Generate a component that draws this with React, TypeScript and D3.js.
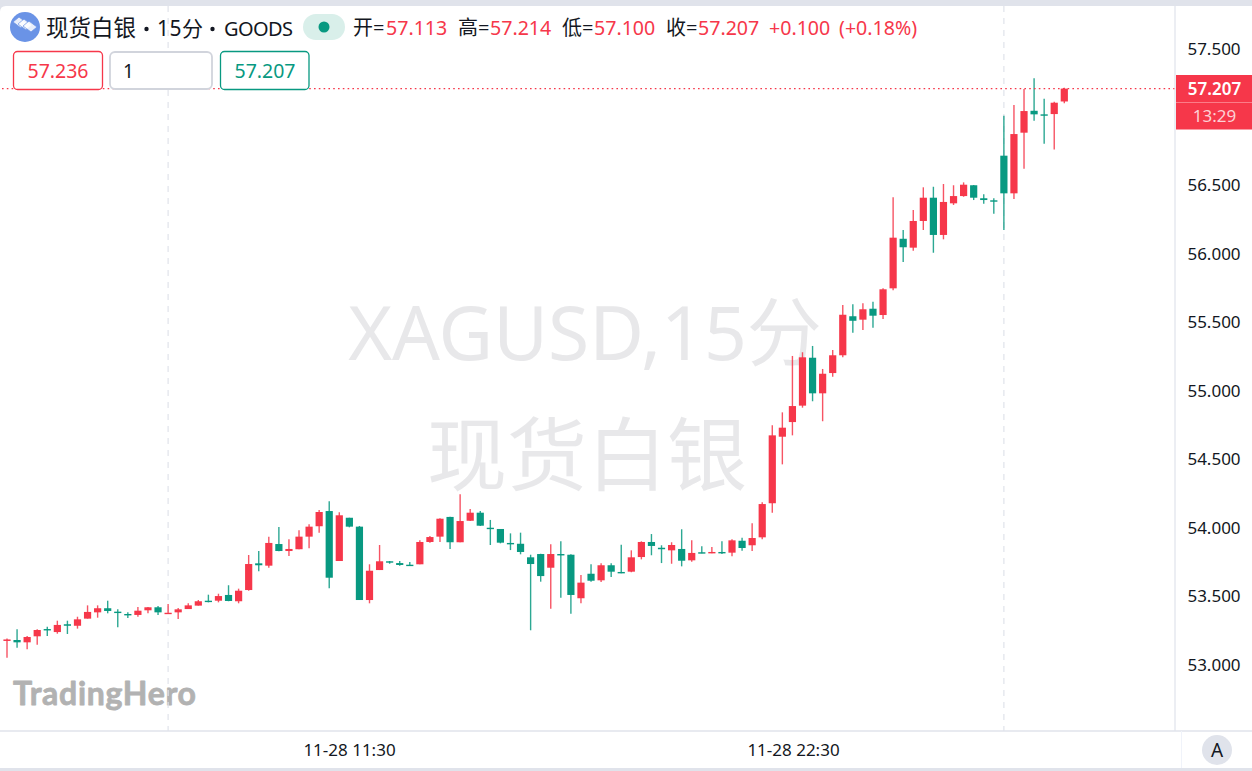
import React from "react";
import * as d3 from "d3";

const opens = [
  53.172,53.179,53.162,53.206,53.259,53.237,53.294,53.283,53.335,53.381,
  53.411,53.386,53.369,53.362,53.396,53.418,53.371,53.381,53.405,53.430,
  53.466,53.466,53.508,53.462,53.544,53.739,53.722,53.880,53.829,53.842,
  53.934,54.010,54.121,53.756,54.072,54.007,53.471,53.690,53.754,53.741,
  53.729,53.732,53.895,53.934,54.078,53.893,54.050,54.109,53.999,53.990,
  53.888,53.882,53.783,53.807,53.707,53.807,53.802,53.484,53.663,53.615,
  53.725,53.676,53.678,53.785,53.895,53.853,53.834,53.844,53.761,53.820,
  53.812,53.822,53.817,53.904,53.871,53.929,54.178,54.664,54.771,54.891,
  55.241,54.981,55.129,55.259,55.544,55.519,55.599,55.553,55.748,56.110,
  56.045,56.240,56.410,56.138,56.369,56.422,56.501,56.406,56.391,56.717,
  56.442,56.885,57.045,57.019,57.021,57.113,
];
const highs = [
  53.190,53.257,53.208,53.257,53.276,53.320,53.320,53.349,53.432,53.432,
  53.466,53.403,53.381,53.420,53.420,53.427,53.442,53.413,53.447,53.471,
  53.510,53.517,53.579,53.554,53.800,53.829,53.934,54.004,53.915,53.980,
  54.024,54.129,54.192,54.112,54.072,54.012,53.732,53.873,53.756,53.756,
  53.749,53.907,53.939,54.068,54.080,54.243,54.136,54.121,54.056,53.990,
  53.958,53.963,53.802,53.809,53.878,53.900,53.805,53.654,53.732,53.739,
  53.739,53.875,53.834,53.900,53.953,53.871,53.893,53.988,53.907,53.863,
  53.858,53.900,53.915,53.926,54.031,54.185,54.747,54.842,55.254,55.281,
  55.327,55.159,55.297,55.626,55.631,55.639,55.650,55.748,56.413,56.174,
  56.320,56.486,56.490,56.510,56.501,56.522,56.503,56.435,56.406,57.009,
  57.087,57.204,57.282,57.133,57.111,57.214,
];
const lows = [
  53.050,53.123,53.111,53.145,53.208,53.225,53.223,53.262,53.335,53.342,
  53.374,53.272,53.340,53.349,53.374,53.362,53.371,53.332,53.405,53.430,
  53.454,53.454,53.462,53.447,53.539,53.681,53.707,53.827,53.793,53.842,
  53.849,53.963,53.557,53.756,54.002,53.471,53.447,53.690,53.736,53.722,
  53.720,53.732,53.890,53.895,53.844,53.893,54.048,54.012,53.873,53.885,
  53.836,53.805,53.250,53.605,53.408,53.488,53.371,53.447,53.605,53.603,
  53.639,53.666,53.674,53.768,53.798,53.741,53.736,53.717,53.751,53.812,
  53.812,53.807,53.790,53.831,53.829,53.915,54.109,54.462,54.674,54.876,
  54.923,54.777,55.102,55.244,55.424,55.444,55.460,55.524,55.734,55.940,
  56.023,56.174,56.008,56.106,56.357,56.417,56.393,56.366,56.293,56.174,
  56.400,56.622,56.972,56.804,56.763,57.100,
];
const closes = [
  53.183,53.162,53.201,53.252,53.250,53.289,53.283,53.330,53.384,53.411,
  53.391,53.376,53.362,53.393,53.418,53.381,53.378,53.403,53.432,53.462,
  53.457,53.500,53.464,53.539,53.734,53.725,53.888,53.829,53.844,53.934,
  54.007,54.114,53.634,54.090,54.007,53.471,53.685,53.754,53.744,53.727,
  53.722,53.895,53.931,54.065,53.893,54.048,54.109,54.014,53.990,53.890,
  53.878,53.822,53.734,53.646,53.807,53.798,53.508,53.598,53.612,53.725,
  53.678,53.668,53.783,53.895,53.866,53.842,53.873,53.758,53.815,53.812,
  53.822,53.815,53.907,53.851,53.924,54.172,54.674,54.730,54.888,55.244,
  54.981,55.124,55.259,55.555,55.511,55.595,55.548,55.741,56.118,56.048,
  56.240,56.410,56.138,56.379,56.422,56.505,56.410,56.393,56.381,56.442,
  56.875,57.043,57.019,57.012,57.104,57.207,
];
const priceTicks = [57.5, 56.5, 56, 55.5, 55, 54.5, 54, 53.5, 53];
const gridBars = [16, 99];
const timeLabels = ["11-28 11:30", "11-28 22:30"];
const legendKeys = ["开", "高", "低", "收"];
const legendValues = ["57.113", "57.214", "57.100", "57.207"];

const UP = "#f6374a";
const DOWN = "#089981";
const LINE = "#e0e3eb";
const INK = "#131722";
const FONT = "'Noto Sans','Noto Sans CJK SC',sans-serif";

export default function App() {
  const W = 1252, H = 771, axisX = 1175, axisY = 731;
  const x = d3.scaleLinear().domain([0, 105]).range([7, 1064.3]);
  const y = d3.scaleLinear().domain([53, 57.5]).range([664.5, 48.5]);
  const last = closes[closes.length - 1];
  const legendX = [353, 458, 562, 666];
  const valueX = [386, 490, 594, 698];
  return (
    <svg width={W} height={H} style={{ position: "absolute", left: 0, top: 0 }} fontFamily={FONT}>
      <rect width={W} height={H} fill={LINE} />
      <path d={`M0 12 Q0 6 6 6 H${W} V768 H0 Z`} fill="#fff" />

      <text x={585} y={360} fontSize={75} textAnchor="middle" fill="#e8e8ea">XAGUSD,15分</text>
      <text x={587} y={484} fontSize={80} textAnchor="middle" fill="#e8e8ea">现货白银</text>
      <text x={13} y={705} fontSize={32} fontWeight={700} fontFamily="Lato,sans-serif" fill="#b2b2b2" stroke="#b2b2b2" strokeWidth={0.8} strokeLinejoin="round" textLength={183}>TradingHero</text>

      {gridBars.map((b) => (
        <line key={b} x1={x(b)} x2={x(b)} y1={6} y2={axisY} stroke={LINE} strokeWidth={1.2} strokeDasharray="6 6" />
      ))}

      {closes.map((c, i) => {
        const o = opens[i];
        const color = c >= o ? UP : DOWN;
        const top = y(Math.max(o, c));
        const bottom = y(Math.min(o, c));
        return (
          <g key={i}>
            <line x1={x(i)} x2={x(i)} y1={y(highs[i])} y2={y(lows[i])} stroke={color} strokeWidth={1.4} opacity={0.85} />
            <rect x={x(i) - 3.6} width={7.2} y={top} height={Math.max(bottom - top, 1.4)} fill={color} />
          </g>
        );
      })}

      <line x1={2} x2={axisX} y1={y(last)} y2={y(last)} stroke={UP} strokeWidth={1.4} strokeDasharray="1.6 3.2" />

      <line x1={axisX} x2={axisX} y1={6} y2={axisY} stroke={LINE} strokeWidth={1.2} />
      <line x1={0} x2={W} y1={axisY} y2={axisY} stroke={LINE} strokeWidth={1.5} />
      <line x1={1181.5} x2={1181.5} y1={axisY} y2={768} stroke="#f0f3fa" strokeWidth={1} />

      {priceTicks.map((t) => (
        <text key={t} x={1214} y={y(t) + 6} fontSize={17} textAnchor="middle" fill={INK}>{d3.format(".3f")(t)}</text>
      ))}

      <rect x={1176} y={75} width={76} height={54.5} fill={UP} />
      <line x1={1176} x2={1252} y1={102.5} y2={102.5} stroke="#fb7c88" strokeWidth={1} />
      <text x={1214.5} y={y(last) + 6} fontSize={17} fontWeight={600} textAnchor="middle" fill="#fff">{d3.format(".3f")(last)}</text>
      <text x={1214.5} y={122} fontSize={17} textAnchor="middle" fill="#fdd0d5">13:29</text>

      {timeLabels.map((t, i) => (
        <text key={t} x={i === 0 ? 349.5 : 793.5} y={756} fontSize={17} textAnchor="middle" fill={INK}>{t}</text>
      ))}

      <circle cx={1217} cy={750} r={15} fill={LINE} />
      <text x={1217} y={757} fontSize={19} textAnchor="middle" fill={INK}>A</text>

      <circle cx={25} cy={27} r={15} fill="#6a93e6" />
      {[-5, 0, 5].map((d) => (
        <path key={d} d={`M${18 + d} ${24 + d * 0.4} l6 -5 l8 6 l-6 5 z`} fill="#fff" opacity={0.85} stroke="#6a93e6" strokeWidth={0.8} />
      ))}
      <text x={46} y={36} fontSize={22.5} fill={INK}>现货白银</text>
      <circle cx={146.5} cy={29} r={2.2} fill={INK} />
      <text x={157} y={36} fontSize={21} fill={INK} textLength={46}>15分</text>
      <circle cx={212.5} cy={29} r={2.2} fill={INK} />
      <text x={224} y={36} fontSize={20} fill={INK} textLength={69}>GOODS</text>

      <rect x={303} y={14} width={42} height={26} rx={13} fill="#d9efea" />
      <circle cx={324} cy={27} r={5.5} fill={DOWN} />

      {legendKeys.map((k, i) => (
        <g key={k}>
          <text x={legendX[i]} y={35} fontSize={20} fill={INK}>{k}=</text>
          <text x={valueX[i]} y={35} fontSize={19.6} fill={UP}>{legendValues[i]}</text>
        </g>
      ))}
      <text x={769} y={35} fontSize={19.6} fill={UP}>+0.100</text>
      <text x={839} y={35} fontSize={19.6} fill={UP}>(+0.18%)</text>

      <rect x={13.5} y={51.5} width={89} height={38} rx={4} fill="#fff" stroke={UP} strokeWidth={1.3} />
      <text x={58} y={77.5} fontSize={19.5} textAnchor="middle" fill={UP}>57.236</text>
      <rect x={110} y={52} width={102} height={37} rx={5} fill="#fff" stroke="#d1d4dc" strokeWidth={1.8} />
      <text x={123} y={78} fontSize={19} fill={INK}>1</text>
      <rect x={220.5} y={51.5} width={88.5} height={38} rx={4} fill="#fff" stroke={DOWN} strokeWidth={1.3} />
      <text x={265} y={77.5} fontSize={19.5} textAnchor="middle" fill={DOWN}>57.207</text>
    </svg>
  );
}
